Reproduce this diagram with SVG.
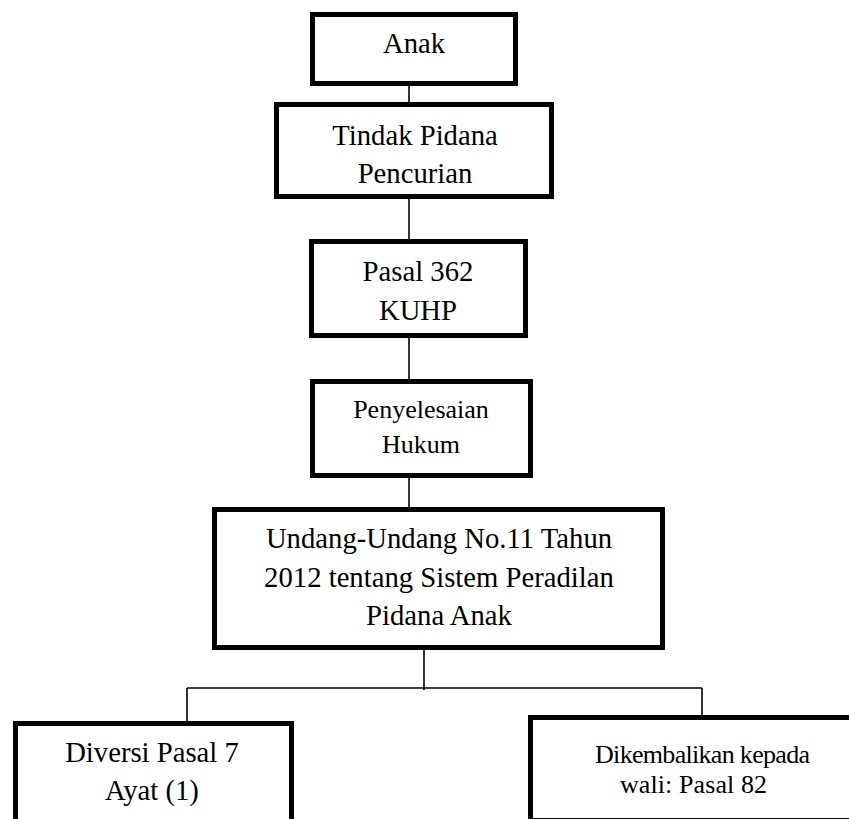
<svg xmlns="http://www.w3.org/2000/svg" width="849" height="819" viewBox="0 0 849 819">
<style>
.box{fill:#fff;stroke:#000;stroke-width:5}
.t{font-family:"Liberation Serif","Times New Roman",serif;font-size:28.7px;fill:#000;text-anchor:middle}
.s{font-size:26px}
.c{stroke:#000;stroke-width:1.6;fill:none}
</style>
<rect width="849" height="819" fill="#fff"/>
<g id="connectors">
<line class="c" x1="409" y1="85" x2="409" y2="102"/>
<line class="c" x1="409" y1="199" x2="409" y2="239"/>
<line class="c" x1="409" y1="338" x2="409" y2="379"/>
<line class="c" x1="409" y1="478" x2="409" y2="507"/>
<line class="c" x1="424" y1="650" x2="424" y2="690"/>
<line class="c" x1="187" y1="688" x2="702" y2="688"/>
<line class="c" x1="187" y1="688" x2="187" y2="721"/>
<line class="c" x1="702" y1="688" x2="702" y2="715"/>
</g>
<g id="anak">
<rect class="box" x="312.5" y="14.5" width="203" height="69"/>
<text class="t" x="414" y="53">Anak</text>
</g>
<g id="tindak-pidana">
<rect class="box" x="276.5" y="104.5" width="275" height="92"/>
<text class="t" x="415" y="145">Tindak Pidana</text>
<text class="t" x="415" y="183">Pencurian</text>
</g>
<g id="pasal-362">
<rect class="box" x="311.5" y="241.5" width="214" height="94"/>
<text class="t" x="418" y="281">Pasal 362</text>
<text class="t" x="418" y="320">KUHP</text>
</g>
<g id="penyelesaian">
<rect class="box" x="312.5" y="381.5" width="218" height="94"/>
<text class="t s" x="421" y="418">Penyelesaian</text>
<text class="t s" x="421" y="453">Hukum</text>
</g>
<g id="uu">
<rect class="box" x="214.5" y="509.5" width="448" height="138"/>
<text class="t" x="439" y="548">Undang-Undang No.11 Tahun</text>
<text class="t" x="439" y="587">2012 tentang Sistem Peradilan</text>
<text class="t" x="439" y="625">Pidana Anak</text>
</g>
<g id="diversi">
<rect class="box" x="15.5" y="723.5" width="276" height="130"/>
<text class="t" x="152" y="762">Diversi Pasal 7</text>
<text class="t" x="152" y="800">Ayat (1)</text>
</g>
<g id="dikembalikan">
<rect class="box" x="530.5" y="717.5" width="340" height="103"/>
<text class="t s" x="595" y="763" style="text-anchor:start" textLength="215">Dikembalikan kepada</text>
<text class="t s" x="620" y="793" style="text-anchor:start" textLength="147">wali: Pasal 82</text>
</g>
</svg>
